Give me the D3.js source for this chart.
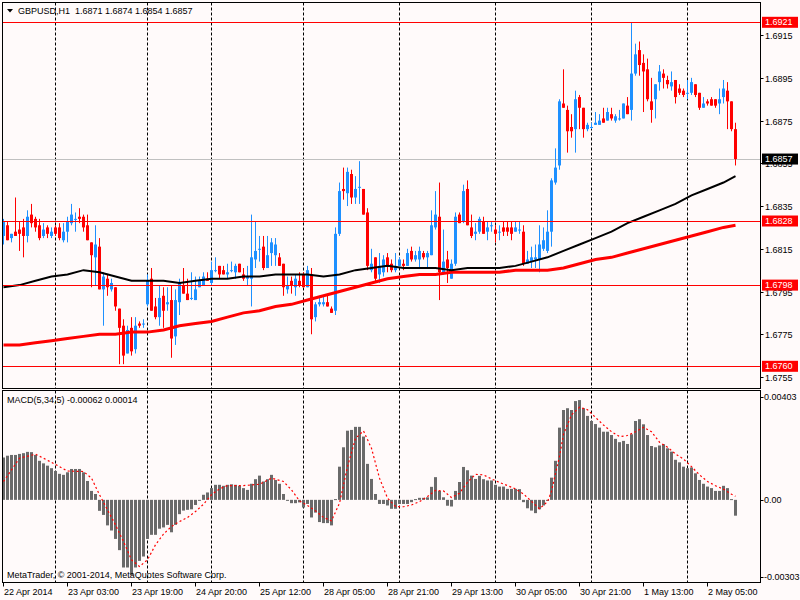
<!DOCTYPE html>
<html><head><meta charset="utf-8">
<script src="https://cdn.jsdelivr.net/npm/d3@7"></script>
<style>html,body{margin:0;padding:0;background:#fffafa;}svg{display:block;font-family:"Liberation Sans",Arial,sans-serif;}</style>
</head><body><svg id="c" width="800" height="600"></svg>
<script>
// ---- data (GBPUSD H1) ----
const opens=[1.6821,1.6826,1.6820,1.6823,1.6824,1.6825,1.6821,1.6831,1.6829,1.6826,1.6821,1.6825,1.6821,1.6825,1.6825,1.6819,1.6823,1.6827,1.6829,1.6830,1.6830,1.6826,1.6818,1.6811,1.6816,1.6796,1.6801,1.6796,1.6797,1.6787,1.6779,1.6766,1.6778,1.6768,1.6780,1.6780,1.6789,1.6801,1.6788,1.6783,1.6793,1.6789,1.6791,1.6774,1.6790,1.6798,1.6794,1.6792,1.6791,1.6797,1.6798,1.6801,1.6799,1.6805,1.6807,1.6805,1.6803,1.6805,1.6804,1.6808,1.6803,1.6801,1.6801,1.6810,1.6815,1.6816,1.6806,1.6813,1.6812,1.6811,1.6808,1.6796,1.6800,1.6797,1.6800,1.6803,1.6797,1.6803,1.6783,1.6789,1.6789,1.6790,1.6787,1.6786,1.6822,1.6843,1.6841,1.6850,1.6839,1.6844,1.6843,1.6832,1.6805,1.6811,1.6803,1.6804,1.6811,1.6808,1.6805,1.6807,1.6808,1.6807,1.6814,1.6810,1.6810,1.6813,1.6811,1.6812,1.6825,1.6830,1.6804,1.6810,1.6801,1.6808,1.6831,1.6828,1.6843,1.6825,1.6822,1.6823,1.6828,1.6823,1.6826,1.6824,1.6823,1.6825,1.6825,1.6825,1.6823,1.6824,1.6823,1.6808,1.6809,1.6810,1.6810,1.6815,1.6814,1.6823,1.6846,1.6854,1.6883,1.6880,1.6872,1.6871,1.6886,1.6881,1.6871,1.6872,1.6873,1.6873,1.6876,1.6875,1.6878,1.6875,1.6876,1.6876,1.6882,1.6880,1.6897,1.6908,1.6902,1.6899,1.6884,1.6885,1.6893,1.6897,1.6894,1.6891,1.6894,1.6890,1.6889,1.6888,1.6888,1.6892,1.6888,1.6881,1.6884,1.6885,1.6885,1.6883,1.6886,1.6889,1.6884,1.6871];
const highs=[1.6829,1.6828,1.6822,1.6839,1.6828,1.6829,1.6833,1.6836,1.6830,1.6829,1.6827,1.6826,1.6825,1.6826,1.6827,1.6827,1.6830,1.6836,1.6832,1.6834,1.6831,1.6831,1.6818,1.6826,1.6820,1.6804,1.6803,1.6801,1.6797,1.6787,1.6782,1.6779,1.6783,1.6783,1.6781,1.6782,1.6803,1.6806,1.6792,1.6798,1.6797,1.6797,1.6798,1.6796,1.6801,1.6806,1.6801,1.6804,1.6802,1.6802,1.6804,1.6804,1.6809,1.6811,1.6807,1.6807,1.6808,1.6809,1.6808,1.6808,1.6806,1.6807,1.6831,1.6828,1.6821,1.6821,1.6821,1.6820,1.6820,1.6813,1.6808,1.6802,1.6802,1.6803,1.6804,1.6804,1.6807,1.6806,1.6790,1.6793,1.6793,1.6793,1.6788,1.6825,1.6846,1.6853,1.6853,1.6852,1.6849,1.6856,1.6843,1.6834,1.6815,1.6811,1.6813,1.6812,1.6813,1.6810,1.6813,1.6811,1.6810,1.6815,1.6816,1.6814,1.6816,1.6814,1.6814,1.6833,1.6842,1.6846,1.6824,1.6814,1.6810,1.6832,1.6832,1.6845,1.6847,1.6831,1.6827,1.6830,1.6830,1.6828,1.6828,1.6826,1.6826,1.6828,1.6828,1.6828,1.6828,1.6828,1.6826,1.6814,1.6816,1.6817,1.6826,1.6825,1.6833,1.6848,1.6862,1.6885,1.6899,1.6882,1.6878,1.6889,1.6887,1.6881,1.6874,1.6874,1.6879,1.6878,1.6881,1.6881,1.6881,1.6878,1.6880,1.6883,1.6886,1.6921,1.6911,1.6912,1.6906,1.6904,1.6895,1.6892,1.6901,1.6899,1.6896,1.6898,1.6894,1.6892,1.6890,1.6894,1.6895,1.6892,1.6888,1.6886,1.6885,1.6886,1.6885,1.6890,1.6894,1.6893,1.6884,1.6874];
const lows=[1.6817,1.6819,1.6818,1.6821,1.6814,1.6811,1.6818,1.6825,1.6823,1.6819,1.6820,1.6820,1.6820,1.6821,1.6819,1.6818,1.6818,1.6826,1.6823,1.6827,1.6823,1.6819,1.6797,1.6798,1.6796,1.6779,1.6793,1.6795,1.6786,1.6761,1.6761,1.6766,1.6765,1.6766,1.6778,1.6778,1.6788,1.6786,1.6782,1.6779,1.6778,1.6786,1.6764,1.6770,1.6784,1.6794,1.6791,1.6791,1.6791,1.6797,1.6798,1.6800,1.6798,1.6804,1.6801,1.6803,1.6801,1.6804,1.6801,1.6804,1.6800,1.6798,1.6788,1.6806,1.6809,1.6805,1.6806,1.6807,1.6807,1.6807,1.6793,1.6794,1.6794,1.6793,1.6797,1.6797,1.6797,1.6775,1.6781,1.6788,1.6788,1.6788,1.6785,1.6784,1.6821,1.6838,1.6835,1.6836,1.6836,1.6836,1.6831,1.6805,1.6804,1.6799,1.6799,1.6802,1.6804,1.6804,1.6804,1.6807,1.6805,1.6807,1.6809,1.6809,1.6806,1.6810,1.6806,1.6812,1.6824,1.6791,1.6803,1.6799,1.6801,1.6807,1.6827,1.6827,1.6826,1.6820,1.6819,1.6822,1.6822,1.6819,1.6823,1.6818,1.6819,1.6821,1.6821,1.6819,1.6823,1.6822,1.6807,1.6808,1.6806,1.6806,1.6804,1.6814,1.6813,1.6816,1.6845,1.6852,1.6881,1.6860,1.6867,1.6860,1.6871,1.6867,1.6870,1.6871,1.6873,1.6873,1.6874,1.6875,1.6875,1.6874,1.6875,1.6876,1.6878,1.6875,1.6896,1.6896,1.6879,1.6884,1.6874,1.6876,1.6889,1.6890,1.6890,1.6889,1.6883,1.6887,1.6886,1.6885,1.6887,1.6886,1.6880,1.6881,1.6882,1.6882,1.6881,1.6878,1.6883,1.6871,1.6870,1.6854];
const closes=[1.6828,1.6819,1.6822,1.6821,1.6822,1.6821,1.6830,1.6827,1.6825,1.6820,1.6824,1.6822,1.6823,1.6822,1.6820,1.6823,1.6828,1.6831,1.6829,1.6829,1.6825,1.6819,1.6812,1.6817,1.6796,1.6802,1.6797,1.6799,1.6788,1.6778,1.6765,1.6777,1.6767,1.6779,1.6779,1.6780,1.6800,1.6786,1.6783,1.6792,1.6786,1.6790,1.6773,1.6791,1.6799,1.6794,1.6791,1.6792,1.6796,1.6800,1.6802,1.6800,1.6805,1.6805,1.6803,1.6803,1.6804,1.6805,1.6807,1.6804,1.6801,1.6802,1.6811,1.6814,1.6815,1.6806,1.6812,1.6818,1.6817,1.6807,1.6797,1.6798,1.6798,1.6801,1.6798,1.6797,1.6805,1.6782,1.6789,1.6790,1.6790,1.6788,1.6785,1.6822,1.6842,1.6842,1.6851,1.6839,1.6843,1.6844,1.6831,1.6807,1.6808,1.6801,1.6807,1.6810,1.6807,1.6805,1.6807,1.6810,1.6807,1.6813,1.6810,1.6812,1.6814,1.6811,1.6813,1.6826,1.6831,1.6804,1.6809,1.6806,1.6808,1.6830,1.6827,1.6842,1.6826,1.6821,1.6823,1.6829,1.6822,1.6825,1.6826,1.6822,1.6823,1.6823,1.6823,1.6822,1.6825,1.6824,1.6808,1.6810,1.6811,1.6811,1.6817,1.6819,1.6823,1.6847,1.6853,1.6884,1.6881,1.6870,1.6870,1.6885,1.6881,1.6871,1.6873,1.6872,1.6874,1.6875,1.6874,1.6879,1.6876,1.6877,1.6876,1.6883,1.6878,1.6897,1.6906,1.6901,1.6898,1.6885,1.6880,1.6892,1.6898,1.6895,1.6892,1.6893,1.6886,1.6888,1.6887,1.6888,1.6893,1.6887,1.6881,1.6883,1.6883,1.6882,1.6882,1.6885,1.6890,1.6884,1.6871,1.6857];

// moving averages (read at sample bars)
const maBlackBars=[0,4,8,12,16,20,24,28,32,36,40,44,48,52,56,60,64,68,72,76,80,84,88,92,96,100,104,108,112,116,120,124,128,132,136,140,144,148,152,156,160,164,168,172,176,180,183];
const maBlackVals=[1.6797,1.6798,1.6800,1.6802,1.6803,1.6805,1.6804,1.6802,1.6800,1.6800,1.6800,1.6799,1.6800,1.6801,1.6801,1.6802,1.6802,1.6803,1.6803,1.6803,1.6802,1.6803,1.6805,1.6806,1.6807,1.6806,1.6806,1.6806,1.6805,1.6806,1.6806,1.6806,1.6807,1.6809,1.6811,1.6814,1.6817,1.6820,1.6823,1.6827,1.6830,1.6833,1.6836,1.6840,1.6843,1.6846,1.6849];
const maRedBars=maBlackBars;
const maRedVals=[1.6770,1.6770,1.6771,1.6772,1.6773,1.6774,1.6775,1.6775,1.6776,1.6776,1.6777,1.6779,1.6780,1.6781,1.6783,1.6785,1.6786,1.6788,1.6789,1.6791,1.6793,1.6795,1.6797,1.6799,1.6801,1.6802,1.6803,1.6803,1.6804,1.6804,1.6804,1.6804,1.6805,1.6805,1.6805,1.6806,1.6808,1.6810,1.6811,1.6813,1.6815,1.6817,1.6819,1.6821,1.6823,1.6825,1.6826];

// MACD histogram (one per bar) and signal line
const macdVals=[0.00166,0.00173,0.00176,0.00176,0.00180,0.00183,0.00188,0.00187,0.00176,0.00153,0.00143,0.00134,0.00124,0.00113,0.00102,0.00098,0.00108,0.00121,0.00121,0.00121,0.00108,0.00074,0.00035,0.00023,-0.00043,-0.00059,-0.00100,-0.00120,-0.00153,-0.00197,-0.00265,-0.00265,-0.00295,-0.00265,-0.00239,-0.00222,-0.00153,-0.00137,-0.00137,-0.00113,-0.00108,-0.00098,-0.00127,-0.00098,-0.00056,-0.00042,-0.00039,-0.00037,-0.00020,-0.00003,0.00020,0.00029,0.00046,0.00059,0.00059,0.00055,0.00059,0.00061,0.00059,0.00055,0.00046,0.00039,0.00063,0.00081,0.00095,0.00072,0.00081,0.00098,0.00078,0.00063,0.00023,-0.00003,-0.00013,-0.00013,-0.00010,-0.00030,-0.00016,-0.00069,-0.00050,-0.00087,-0.00091,-0.00091,-0.00100,0.00003,0.00130,0.00206,0.00271,0.00274,0.00286,0.00286,0.00248,0.00141,0.00082,0.00023,-0.00016,-0.00016,-0.00022,-0.00035,-0.00035,-0.00016,-0.00016,-0.00016,-0.00009,0.00003,0.00008,0.00008,0.00010,0.00051,0.00089,0.00035,0.00010,-0.00023,-0.00026,0.00035,0.00070,0.00129,0.00116,0.00095,0.00082,0.00094,0.00081,0.00076,0.00076,0.00059,0.00052,0.00052,0.00043,0.00043,0.00043,0.00042,-0.00009,-0.00033,-0.00042,-0.00052,-0.00037,-0.00022,-0.00003,0.00087,0.00153,0.00283,0.00352,0.00359,0.00352,0.00387,0.00391,0.00359,0.00329,0.00309,0.00297,0.00283,0.00267,0.00267,0.00254,0.00239,0.00226,0.00231,0.00219,0.00257,0.00309,0.00316,0.00296,0.00254,0.00211,0.00206,0.00213,0.00218,0.00202,0.00189,0.00157,0.00147,0.00130,0.00124,0.00127,0.00104,0.00078,0.00063,0.00052,0.00046,0.00035,0.00035,0.00055,0.00046,0.00003,-0.00062];
const signalBars=[0,4,8,12,16,20,22,24,26,28,30,32,34,36,38,40,42,44,46,48,50,52,54,56,60,64,67,70,72,74,76,78,80,82,84,86,88,90,92,94,96,98,100,102,104,106,108,110,112,114,116,118,120,122,124,126,128,130,132,134,136,137,138,139,140,142,144,146,148,150,152,154,156,158,160,162,164,166,168,170,172,174,176,178,180,182,183];
const signalVals=[0.00072,0.00163,0.00179,0.00147,0.00113,0.00111,0.00085,0.00020,-0.00039,-0.00098,-0.00163,-0.00235,-0.00261,-0.00235,-0.00176,-0.00134,-0.00104,-0.00085,-0.00069,-0.00046,-0.00017,0.00020,0.00043,0.00056,0.00056,0.00061,0.00085,0.00072,0.00039,-0.00004,-0.00022,-0.00043,-0.00069,-0.00082,-0.00013,0.00130,0.00241,0.00270,0.00202,0.00085,0.00007,-0.00026,-0.00027,-0.00020,-0.00007,0.00013,0.00037,0.00035,0.00009,0.00026,0.00069,0.00100,0.00098,0.00082,0.00068,0.00056,0.00043,0.00023,-0.00006,-0.00035,-0.00007,0.00033,0.00104,0.00170,0.00257,0.00333,0.00363,0.00353,0.00323,0.00293,0.00267,0.00248,0.00252,0.00267,0.00284,0.00267,0.00226,0.00206,0.00180,0.00160,0.00130,0.00098,0.00072,0.00055,0.00042,0.00022,0.00014];

// axes and levels
const priceTicks=[1.6915,1.6895,1.6875,1.6855,1.6835,1.6815,1.6795,1.6775,1.6755];
const levelLines=[1.6921,1.6828,1.6798,1.6760];
const currentPrice=1.6857;
const macdTicks=[0.00403,0,-0.00303];
const macdTickLabels=["0.00403","0.00","-0.00303"];
const timeTickBars=[0,16,32,48,64,80,96,112,128,144,160,176];
const timeTickLabels=["22 Apr 2014","23 Apr 03:00","23 Apr 19:00","24 Apr 20:00","25 Apr 12:00","28 Apr 05:00","28 Apr 21:00","29 Apr 13:00","30 Apr 05:00","30 Apr 21:00","1 May 13:00","2 May 05:00"];
const gridBars=[13,36,52,75,99,123,147,171];
const titleText="GBPUSD,H1  1.6871 1.6874 1.6854 1.6857";
const macdTitle="MACD(5,34,5) -0.00062 0.00014";
const copyright="MetaTrader, \u00A9 2001-2014, MetaQuotes Software Corp.";

// ---- drawing ----
const svg=d3.select("#c");
const FONT=9;
const L=2.5,R=760.5,MT=2.5,MB=388.5,ST=390.5,SB=582.5;
svg.append("rect").attr("width",800).attr("height",600).attr("fill","#fffafa");

const x=d3.scaleLinear().domain([0,183]).range([3.5,735.5]);
const y=d3.scaleLinear().domain([1.6760,1.6921]).range([366.3,22.3]);
const ym=d3.scaleLinear().domain([-0.00303,0.00403]).range([577.2,397]);

const defs=svg.append("defs");
defs.append("clipPath").attr("id","cm").append("rect").attr("x",L).attr("y",MT).attr("width",R-L).attr("height",MB-MT);
defs.append("clipPath").attr("id","cs").append("rect").attr("x",L).attr("y",ST).attr("width",R-L).attr("height",SB-ST);

// grid (both panels)
[[MT,MB],[ST,SB]].forEach(([t,b])=>{
  svg.append("g").selectAll("line").data(gridBars).join("line")
    .attr("x1",d=>x(d)).attr("x2",d=>x(d)).attr("y1",t).attr("y2",b)
    .attr("stroke","#000").attr("stroke-width",1).attr("stroke-dasharray","3,2");
});

const main=svg.append("g").attr("clip-path","url(#cm)");
// current price line
main.append("line").attr("x1",L).attr("x2",R).attr("y1",Math.round(y(currentPrice))+0.5).attr("y2",Math.round(y(currentPrice))+0.5).attr("stroke","#c0c0c0");

const idx=d3.range(opens.length);
const col=i=>closes[i]>=opens[i]?"#1e90ff":"#ff0000";
main.append("g").selectAll("line").data(idx).join("line")
  .attr("x1",i=>x(i)).attr("x2",i=>x(i)).attr("y1",i=>y(highs[i])).attr("y2",i=>y(lows[i]))
  .attr("stroke",col).attr("stroke-width",1);
main.append("g").selectAll("rect").data(idx).join("rect")
  .attr("x",i=>x(i)-1.5).attr("width",3)
  .attr("y",i=>y(Math.max(opens[i],closes[i])))
  .attr("height",i=>Math.max(1,Math.abs(y(opens[i])-y(closes[i]))))
  .attr("fill",col);

// moving averages
main.append("path").datum(maRedBars.map((b,k)=>[b,maRedVals[k]]))
  .attr("d",d3.line().x(d=>x(d[0])).y(d=>y(d[1])))
  .attr("fill","none").attr("stroke","#ff0000").attr("stroke-width",3);
main.append("path").datum(maBlackBars.map((b,k)=>[b,maBlackVals[k]]))
  .attr("d",d3.line().x(d=>x(d[0])).y(d=>y(d[1])))
  .attr("fill","none").attr("stroke","#000").attr("stroke-width",2);

// level lines
main.append("g").selectAll("line").data(levelLines).join("line")
  .attr("x1",L).attr("x2",R).attr("y1",d=>Math.round(y(d))+0.5).attr("y2",d=>Math.round(y(d))+0.5)
  .attr("stroke","#ff0000").attr("stroke-width",1);

// MACD panel
const sub=svg.append("g").attr("clip-path","url(#cs)");
sub.append("g").selectAll("rect").data(idx).join("rect")
  .attr("x",i=>x(i)-1.5).attr("width",3)
  .attr("y",i=>Math.min(ym(0),ym(macdVals[i])))
  .attr("height",i=>Math.max(1,Math.abs(ym(macdVals[i])-ym(0))))
  .attr("fill","#6a6a6a");
sub.append("path").datum(signalBars.map((b,k)=>[b,signalVals[k]]))
  .attr("d",d3.line().x(d=>x(d[0])).y(d=>ym(d[1])))
  .attr("fill","none").attr("stroke","#ff0000").attr("stroke-width",1.2).attr("stroke-dasharray","2,2.5");

// frames
svg.append("rect").attr("x",L).attr("y",MT).attr("width",R-L).attr("height",MB-MT).attr("fill","none").attr("stroke","#000");
svg.append("rect").attr("x",L).attr("y",ST).attr("width",R-L).attr("height",SB-ST).attr("fill","none").attr("stroke","#000");

// price axis
const ax=svg.append("g").attr("font-size",FONT).attr("fill","#000");
priceTicks.forEach(p=>{
  const yy=Math.round(y(p))+0.5;
  ax.append("line").attr("x1",R).attr("x2",R+3).attr("y1",yy).attr("y2",yy).attr("stroke","#000");
  ax.append("text").attr("x",765).attr("y",yy).attr("dy","0.35em").text(p.toFixed(4));
});
levelLines.forEach(p=>{
  const yy=y(p);
  ax.append("rect").attr("x",762).attr("y",yy-5.5).attr("width",36).attr("height",11).attr("fill","#ff0000");
  ax.append("text").attr("x",765).attr("y",yy).attr("dy","0.35em").attr("fill","#fff").text(p.toFixed(4));
});
{
  const yy=y(currentPrice);
  ax.append("rect").attr("x",762).attr("y",yy-5.5).attr("width",36).attr("height",11).attr("fill","#000");
  ax.append("text").attr("x",765).attr("y",yy).attr("dy","0.35em").attr("fill","#fff").text(currentPrice.toFixed(4));
}
// macd axis
macdTicks.forEach((v,k)=>{
  const yy=Math.round(ym(v))+0.5;
  ax.append("line").attr("x1",R).attr("x2",R+3).attr("y1",yy).attr("y2",yy).attr("stroke","#000");
  ax.append("text").attr("x",764).attr("y",ym(v)).attr("dy","0.35em").text(macdTickLabels[k]);
});

// time axis
timeTickBars.forEach((b,k)=>{
  const xx=Math.round(x(b))-0.5;
  ax.append("line").attr("x1",xx).attr("x2",xx).attr("y1",SB).attr("y2",SB+4).attr("stroke","#000");
  ax.append("text").attr("x",xx+0.5).attr("y",592).attr("dy","0.35em").text(timeTickLabels[k]);
});

// titles
svg.append("path").attr("d","M7,9 L13,9 L10,12.5 Z").attr("fill","#000");
svg.append("text").attr("x",18).attr("y",11).attr("dy","0.35em").attr("font-size",FONT).attr("xml:space","preserve").style("white-space","pre").text(titleText);
svg.append("text").attr("x",7).attr("y",399.5).attr("dy","0.35em").attr("font-size",FONT).text(macdTitle);
svg.append("text").attr("x",7).attr("y",575).attr("dy","0.35em").attr("font-size",FONT).text(copyright);
</script></body></html>
